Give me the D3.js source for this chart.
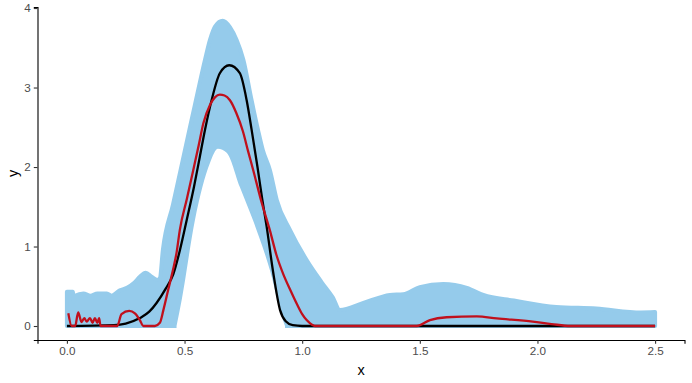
<!DOCTYPE html>
<html><head><meta charset="utf-8">
<script src="https://cdn.jsdelivr.net/npm/d3@7"></script>
<style>
body{margin:0;background:#fff;}
text{font-family:"Liberation Sans",Arial,sans-serif;}
</style></head>
<body>
<svg id="chart" width="692" height="383"></svg>
<script>
// Upper envelope of the blue bundle of curves
const bandUpperX = [0,0.01,0.025,0.03,0.035,0.07,0.1,0.13,0.17,0.19,0.225,0.255,0.285,0.31,0.335,0.36,0.385,0.395,0.408,0.451,0.48,0.523,0.544,0.587,0.608,0.63,0.662,0.693,0.721,0.75,0.785,0.812,0.833,0.863,0.892,0.948,1.019,1.083,1.13,1.16,1.26,1.373,1.43,1.5,1.6,1.7,1.77,1.9,2.08,2.25,2.44,2.5];
const bandUpperY = [0.43,0.43,0.43,0.31,0.38,0.41,0.38,0.41,0.41,0.38,0.45,0.48,0.54,0.62,0.67,0.62,0.58,0.6,0.96,1.53,1.92,2.5,2.78,3.35,3.6,3.77,3.84,3.76,3.6,3.35,2.84,2.47,2.21,1.96,1.585,1.21,0.83,0.55,0.36,0.2,0.29,0.39,0.4,0.49,0.53,0.48,0.39,0.32,0.24,0.22,0.17,0.175];
// Lower envelope of the bundle (the empty hole under the peak)
const bandLowerX = [0.466,0.488,0.544,0.608,0.642,0.679,0.735,0.791,0.863,0.918,0.927];
const bandLowerY = [0,0.33,1.33,2.05,2.23,2.18,1.75,1.33,0.70,0.075,0];

// True density (black)
const trueX = [0,0.2,0.25,0.31,0.35,0.381,0.42,0.452,0.48,0.509,0.54,0.565,0.587,0.615,0.65,0.69,0.735,0.764,0.785,0.81,0.83,0.849,0.877,0.906,0.93,0.96,1.0,1.5,2.0,2.5];
const trueY = [0,0.01,0.03,0.1,0.18,0.29,0.47,0.65,0.95,1.33,1.75,2.13,2.47,2.84,3.18,3.28,3.18,2.84,2.47,2.0,1.6,1.25,0.67,0.2,0.06,0.01,0,0,0,0];

// Estimate (red)
const estX = [0.006,0.02,0.035,0.048,0.062,0.074,0.084,0.098,0.109,0.119,0.129,0.137,0.143,0.214,0.232,0.265,0.289,0.31,0.325,0.374,0.395,0.41,0.43,0.452,0.466,0.48,0.51,0.537,0.56,0.58,0.608,0.63,0.65,0.67,0.693,0.72,0.748,0.77,0.792,0.828,0.863,0.89,0.92,0.95,0.977,1.0,1.019,1.04,1.054,1.487,1.543,1.614,1.742,1.827,1.98,2.06,2.14,2.5];
const estY = [0.16,0.0,0.0,0.17,0.05,0.1,0.055,0.1,0.04,0.1,0.04,0.1,0.0,0.0,0.15,0.19,0.16,0.075,0.0,0.0,0.04,0.2,0.45,0.72,0.92,1.21,1.6,1.96,2.27,2.55,2.78,2.88,2.91,2.9,2.84,2.68,2.45,2.2,1.96,1.55,1.2,0.9,0.65,0.45,0.28,0.15,0.075,0.02,0,0,0.075,0.11,0.12,0.095,0.055,0.025,0,0];

const xTicks = [0,0.5,1,1.5,2,2.5];
const yTicks = [0,1,2,3,4];

const svg = d3.select("#chart");
const x = d3.scaleLinear().domain([-0.125,2.625]).range([37.5,684.5]);
const y = d3.scaleLinear().domain([-0.176,4.013]).range([340,7]);

const zip = (a,b)=>a.map((v,i)=>[v,b[i]]);
const blue = "#95cbeb";
const upperArea = d3.area().x(d=>x(d[0])).y0(y(0)).y1(d=>y(d[1])).curve(d3.curveMonotoneX);
svg.append("path").attr("d",upperArea(zip(bandUpperX,bandUpperY)))
  .attr("fill",blue).attr("stroke",blue).attr("stroke-width",4).attr("stroke-linejoin","round");
const holeArea = d3.area().x(d=>x(d[0])).y0(y(-0.07)).y1(d=>y(d[1])).curve(d3.curveMonotoneX);
svg.append("path").attr("d",holeArea(zip(bandLowerX,bandLowerY))).attr("fill","#fff");

const smooth = d3.line().x(d=>x(d[0])).y(d=>y(d[1])).curve(d3.curveMonotoneX);
svg.append("path").attr("d",smooth(zip(trueX,trueY)))
  .attr("fill","none").attr("stroke","#000").attr("stroke-width",2.3);
svg.append("path").attr("d",smooth(zip(estX,estY)))
  .attr("fill","none").attr("stroke","#c0101c").attr("stroke-width",2.3).attr("stroke-linejoin","round");

// axes
const xAxis = svg.append("g").attr("transform","translate(0,340)")
  .call(d3.axisBottom(x).tickValues(xTicks).tickFormat(d3.format(".1f")).tickSizeOuter(0).tickSize(3.7).tickPadding(3));
const yAxis = svg.append("g").attr("transform","translate(37.5,0)")
  .call(d3.axisLeft(y).tickValues(yTicks).tickFormat(d3.format("d")).tickSizeOuter(0).tickSize(3.7).tickPadding(3));
[xAxis,yAxis].forEach(g=>{
  g.select(".domain").attr("stroke","#000").attr("stroke-width",1.1);
  g.selectAll(".tick line").attr("stroke","#333").attr("stroke-width",1.1);
  g.selectAll(".tick text").attr("fill","#4d4d4d").style("font-size","11.7px").style("font-family","'Liberation Sans',Arial,sans-serif");
});
svg.append("text").attr("x",x(1.25)).attr("y",375).attr("text-anchor","middle")
  .style("font-size","14.5px").attr("fill","#000").text("x");
svg.append("text").attr("transform","translate(18,"+y(1.92)+") rotate(-90)").attr("text-anchor","middle")
  .style("font-size","14.5px").attr("fill","#000").text("y");
</script>
</body></html>
